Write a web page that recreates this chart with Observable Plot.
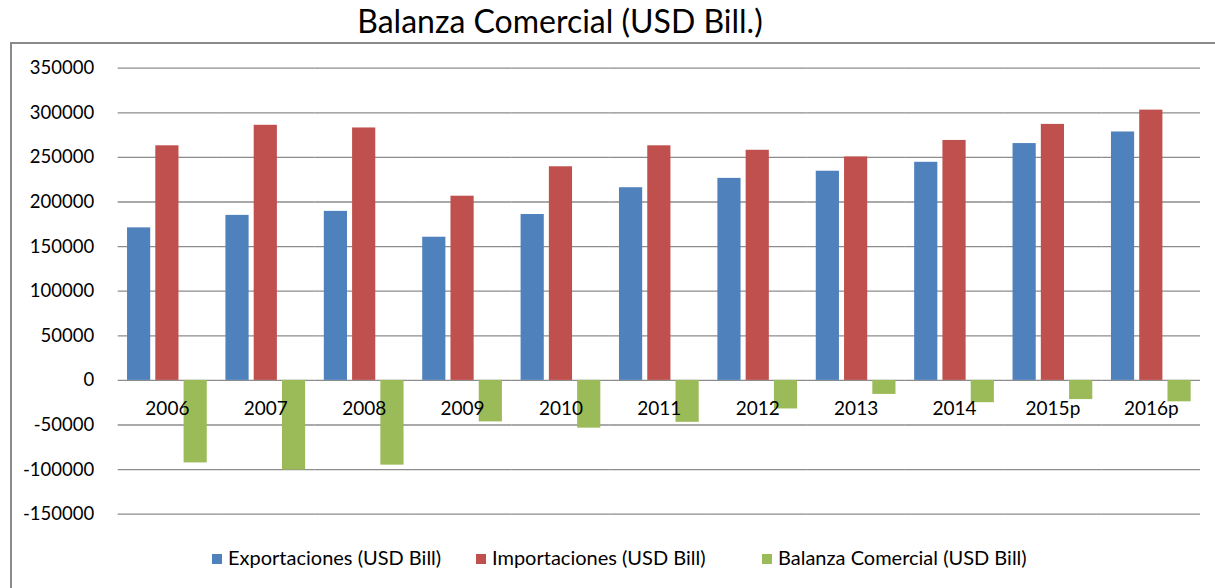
<!DOCTYPE html>
<html>
<head>
<meta charset="utf-8">
<script src="https://cdn.jsdelivr.net/npm/d3@7"></script>
<script src="https://cdn.jsdelivr.net/npm/@observablehq/plot@0.6"></script>
<style>
  html, body { margin: 0; padding: 0; background: #fff; }
  #wrap { position: relative; width: 1215px; height: 588px; overflow: hidden; font-family: Lato, "Open Sans", sans-serif; color: #000; }
  #title { position: absolute; left: 0; width: 1120px; top: 2px; text-align: center; font-size: 32px; line-height: 38px; }
  #frame { position: absolute; left: 10px; top: 42px; width: 1220px; height: 600px; border-left: 2px solid #8a8a8a; border-top: 2px solid #8a8a8a; box-sizing: border-box; }
  #chart { position: absolute; left: 0; top: 0; }
  .leg { position: absolute; top: 544px; font-size: 20px; line-height: 26px; white-space: nowrap; }
  .sw { display: inline-block; width: 10px; height: 10px; margin-right: 6px; vertical-align: 1px; }
</style>
</head>
<body>
<div id="wrap">
  <div id="frame"></div>
  <div id="title">Balanza Comercial (USD Bill.)</div>
  <div id="chart"></div>
</div>
<script>
const years = ["2006", "2007", "2008", "2009", "2010", "2011", "2012", "2013", "2014", "2015p", "2016p"];
const exportaciones = [171000, 185000, 189500, 160500, 186000, 216000, 226500, 234500, 244500, 265500, 278500];
const importaciones = [263000, 286000, 283000, 206500, 239500, 263000, 258000, 250500, 269000, 287000, 303000];
const balanza = [-92500, -100500, -95000, -46500, -53500, -47000, -32000, -15700, -25000, -21500, -24000];
const seriesNames = ["Exportaciones (USD Bill)", "Importaciones (USD Bill)", "Balanza Comercial (USD Bill)"];
const seriesColors = ["#4F81BD", "#C0504D", "#9BBB59"];
const yTicks = [-150000, -100000, -50000, 0, 50000, 100000, 150000, 200000, 250000, 300000, 350000];

const seriesValues = [exportaciones, importaciones, balanza];
const data = [];
years.forEach((yr, i) => {
  seriesNames.forEach((s, j) => data.push({year: yr, series: s, value: seriesValues[j][i]}));
});

const chart = Plot.plot({
  width: 1215,
  height: 588,
  marginLeft: 117.7,
  marginRight: 15,
  marginTop: 67.7,
  marginBottom: 74.3,
  style: {fontFamily: "Lato, sans-serif", fontSize: "18.5px", color: "#000", background: "transparent"},
  fx: {domain: years, axis: null, padding: 0, round: false, label: null},
  x: {domain: seriesNames, axis: null, paddingInner: 0.18, paddingOuter: 0.33, round: false, label: null},
  y: {domain: [-150000, 350000], label: null},
  color: {domain: seriesNames, range: seriesColors},
  marks: [
    Plot.gridY(yTicks, {stroke: "#8c8c8c", strokeOpacity: 1, strokeWidth: 1.3}),
    Plot.barY(data, {fx: "year", x: "series", y: "value", fill: "series"}),
    Plot.axisY(yTicks, {tickSize: 0, tickPadding: 24, tickFormat: d => String(d), fontSize: 18.5, label: null}),
    Plot.text(years, {fx: d => d, text: d => d, y: d => 0, dy: 29, fontSize: 19, fill: "#000"})
  ]
});
document.getElementById("chart").appendChild(chart);

const legLefts = [212, 476, 762];
const wrap = document.getElementById("wrap");
seriesNames.forEach((s, j) => {
  const div = document.createElement("div");
  div.className = "leg";
  div.style.left = legLefts[j] + "px";
  const sw = document.createElement("span");
  sw.className = "sw";
  sw.style.background = seriesColors[j];
  div.appendChild(sw);
  div.appendChild(document.createTextNode(s));
  wrap.appendChild(div);
});
</script>
</body>
</html>
